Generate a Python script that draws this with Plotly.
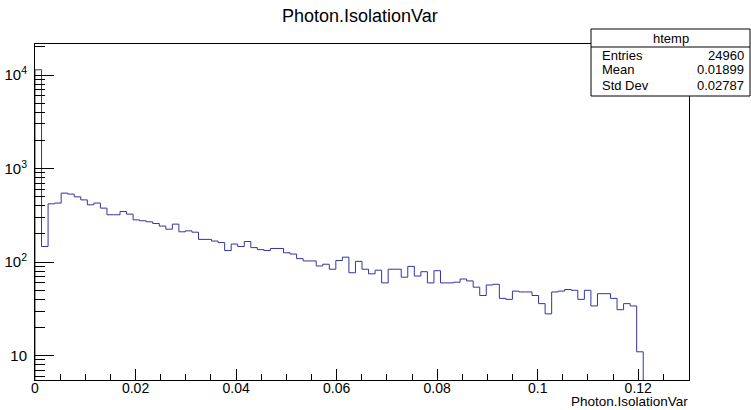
import plotly.graph_objects as go

# ---- data ----
x_min = 0.0
x_max = 0.1301
n_bins = 100
counts = [
    11396, 147, 420, 428, 547, 534, 499, 463, 410, 428,
    378, 321, 321, 348, 326, 283, 277, 270, 259, 243,
    225, 255, 211, 216, 209, 175, 175, 168, 162, 133,
    156, 147, 166, 143, 136, 133, 140, 140, 126, 122,
    109, 103, 103, 91, 95, 84, 104, 113, 77, 102,
    84, 75, 82, 60, 84, 84, 69, 90, 71, 79,
    60, 81, 60, 60, 61, 66, 63, 54, 44, 57,
    58, 41, 40, 49, 48, 48, 44, 36, 28, 48,
    49, 51, 50, 40, 50, 34, 46, 46, 41, 31,
    36, 34, 11,
]
title_text = "Photon.IsolationVar"
x_title = "Photon.IsolationVar"
stats_name = "htemp"
stats_labels = ["Entries", "Mean", "Std Dev"]
stats_values = ["24960", "0.01899", "0.02787"]
y_tickvals = [10, 100, 1000, 10000]
y_ticktext = ["10", "10<sup>2</sup>", "10<sup>3</sup>", "10<sup>4</sup>"]
x_tickvals = [0, 0.02, 0.04, 0.06, 0.08, 0.1, 0.12]
x_ticktext = ["0", "0.02", "0.04", "0.06", "0.08", "0.1", "0.12"]

# ---- geometry (pixels) ----
W, H = 751, 410
L, R, T, B = 35, 689, 44, 380
y_log_range = [0.740, 4.332]

bw = (x_max - x_min) / n_bins
edges = [x_min + i * bw for i in range(len(counts) + 1)]
ybot = 1.0
xs = [x_min] + edges[:len(counts)] + [edges[len(counts)], edges[len(counts)]]
ys = [ybot] + counts + [counts[-1], ybot]

line_color = "#3434a0"
FONT = "Liberation Sans, Arial, Helvetica, sans-serif"

fig = go.Figure()
fig.add_trace(go.Scatter(x=xs, y=ys, mode="lines", line=dict(color=line_color, width=1, shape="hv"),
                         hoverinfo="skip", showlegend=False))

minor_y = [k * 10 ** d for d in range(0, 5) for k in range(2, 10) if k * 10 ** d < 10 ** y_log_range[1]]

def px_x(p):
    return (p - L) / (R - L)

def px_y(p):
    return (B - p) / (B - T)

fig.update_layout(
    width=W, height=H,
    margin=dict(l=L, r=W - R, t=T, b=H - B, pad=0, autoexpand=False),
    paper_bgcolor="white", plot_bgcolor="white",
    font=dict(family=FONT, color="black", size=14),
    xaxis=dict(range=[x_min, x_max], showgrid=False, zeroline=False, automargin=False,
               showline=True, linecolor="black", linewidth=1, mirror=True,
               ticks="inside", ticklen=11, tickcolor="black", tickwidth=1,
               tickmode="array", tickvals=x_tickvals, ticktext=x_ticktext,
               tickfont=dict(size=14, family=FONT), ticklabelstandoff=-5,
               minor=dict(ticks="inside", ticklen=6, dtick=0.005, tick0=0, tickcolor="black", showgrid=False)),
    yaxis=dict(type="log", range=y_log_range, showgrid=False, zeroline=False, automargin=False,
               showline=True, linecolor="black", linewidth=1, mirror=True,
               ticks="inside", ticklen=19, tickcolor="black", tickwidth=1,
               tickmode="array", tickvals=y_tickvals, ticktext=y_ticktext,
               tickfont=dict(size=15, family=FONT), ticklabelstandoff=4,
               minor=dict(ticks="inside", ticklen=10, tickmode="array", tickvals=minor_y,
                          tickcolor="black", showgrid=False)),
)

annotations = [
    dict(text=title_text, xref="paper", yref="paper", x=px_x(360), y=px_y(16),
         xanchor="center", yanchor="middle", showarrow=False, font=dict(size=18, family=FONT)),
    dict(text=x_title, xref="paper", yref="paper", x=1.0, y=px_y(410),
         xanchor="right", yanchor="bottom", showarrow=False, borderpad=0,
         font=dict(size=13.5, family=FONT)),
]

# stats box
bx0, bx1, by0, by1, bsep = 591, 750, 29, 96, 47
shapes = [
    dict(type="rect", xref="paper", yref="paper", x0=px_x(bx0), x1=px_x(bx1), y0=px_y(by1), y1=px_y(by0),
         fillcolor="white", line=dict(color="black", width=1), layer="above"),
    dict(type="line", xref="paper", yref="paper", x0=px_x(bx0), x1=px_x(bx1), y0=px_y(bsep), y1=px_y(bsep),
         line=dict(color="black", width=1), layer="above"),
]
annotations.append(dict(text=stats_name, xref="paper", yref="paper", x=px_x((bx0 + bx1) / 2), y=px_y(38),
                        xanchor="center", yanchor="middle", showarrow=False, font=dict(size=13, family=FONT)))
row_y = [55, 70, 85]
for lab, val, ry in zip(stats_labels, stats_values, row_y):
    annotations.append(dict(text=lab, xref="paper", yref="paper", x=px_x(600), y=px_y(ry),
                            xanchor="left", yanchor="middle", showarrow=False, font=dict(size=13, family=FONT)))
    annotations.append(dict(text=val, xref="paper", yref="paper", x=px_x(746), y=px_y(ry),
                            xanchor="right", yanchor="middle", showarrow=False, font=dict(size=13, family=FONT)))

fig.update_layout(shapes=shapes, annotations=annotations)
fig.write_html("out.html", config={"displayModeBar": False},
               post_script="document.body.style.margin='0';document.body.style.overflow='hidden';")
